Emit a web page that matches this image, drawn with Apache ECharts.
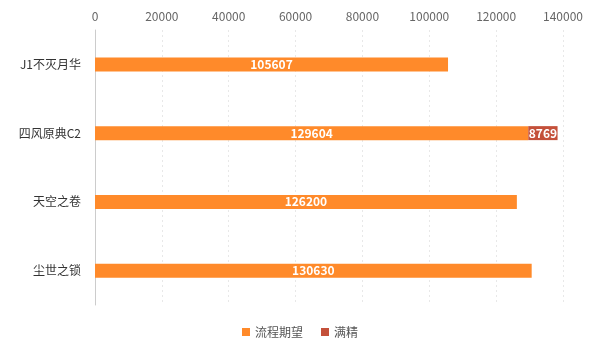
<!DOCTYPE html>
<html><head><meta charset="utf-8">
<script src="https://cdn.jsdelivr.net/npm/echarts@6/dist/echarts.min.js"></script>
<style>html,body{margin:0;padding:0;background:#fff}#c{width:600px;height:351px}</style>
</head><body><div id="c"></div>
<script>
const categories = ['J1不灭月华', '四风原典C2', '天空之卷', '尘世之锁'];
const seriesNames = ['流程期望', '满精'];
const flowValues = [105607, 129604, 126200, 130630];
const refineValues = [null, 8769, null, null];
const colors = ['#FF8A2A', '#C4503A'];

const chart = echarts.init(document.getElementById('c'));
const lbl = {show: true, position: 'inside', color: '#fff', fontWeight: 'bold', fontSize: 12, fontFamily: 'Noto Sans CJK SC'};
chart.setOption({
  animation: false,
  textStyle: {fontFamily: 'Noto Sans CJK SC'},
  color: colors,
  grid: {left: 95, right: 37, top: 30, bottom: 46},
  legend: {bottom: 8, left: 'center', itemWidth: 8, itemHeight: 8, itemGap: 18, icon: 'rect',
    textStyle: {color: '#555', fontSize: 12}, data: seriesNames},
  xAxis: {type: 'value', position: 'top', min: 0, max: 140000, interval: 20000,
    axisLine: {show: false}, axisTick: {show: false},
    axisLabel: {color: '#666', fontSize: 12, margin: 8, formatter: v => String(v)},
    splitLine: {show: true, lineStyle: {type: [2, 3], color: '#e8e8e8'}}},
  yAxis: {type: 'category', inverse: true, data: categories,
    axisLine: {show: true, lineStyle: {color: '#ccc'}}, axisTick: {show: false},
    axisLabel: {color: '#333', fontSize: 12, margin: 14}},
  series: [
    {name: seriesNames[0], type: 'bar', stack: 's', barWidth: 14, data: flowValues, label: lbl},
    {name: seriesNames[1], type: 'bar', stack: 's', barWidth: 14, data: refineValues, label: lbl}
  ]
});
</script></body></html>
